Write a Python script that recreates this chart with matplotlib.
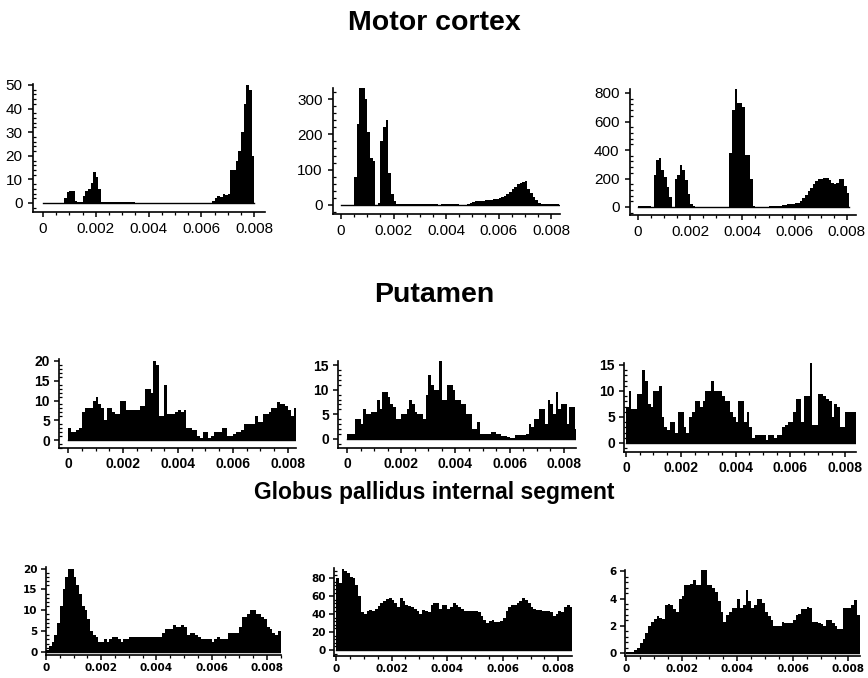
import matplotlib
matplotlib.use("Agg")
import matplotlib.pyplot as plt
import numpy as np
from matplotlib.ticker import AutoMinorLocator, MultipleLocator

W, H = 868, 678
plt.rcParams.update({"font.family": ["Liberation Sans", "DejaVu Sans"]})

BIN_WIDTH = 0.0001  # s, inter-spike interval bins
XTICKS = [0, 0.002, 0.004, 0.006, 0.008]
XTICK_LABELS = ["0", "0.002", "0.004", "0.006", "0.008"]

# ---------------------------------------------------------------------------
# Motor cortex (counts per 0.1 ms bin)
# ---------------------------------------------------------------------------
mc1 = [0, 0, 0, 0, 0, 0, 0, 0, 2, 4.5,
       5, 5, 1, 0.3, 0.3, 3, 5, 6, 8.5, 13,
       11, 6, 0.3, 0.3, 0.3, 0.3, 0.3, 0.3, 0.3, 0.3,
       0.3, 0.3, 0.3, 0.3, 0.3, 0, 0, 0, 0, 0,
       0, 0, 0, 0, 0, 0, 0, 0, 0, 0,
       0, 0, 0, 0, 0, 0, 0, 0, 0, 0,
       0, 0, 0, 0, 1, 2, 3, 2.5, 4, 3.5,
       4, 14, 14, 18, 22, 30, 42, 50, 48, 20]
mc2 = [0, 0, 0, 0, 0, 80, 230, 330, 340, 300,
       208, 132, 125, 0, 5, 180, 222, 241, 90, 30,
       10, 2, 2, 2, 2, 2, 2, 2, 2, 2,
       2, 2, 2, 2, 2, 2, 2, 1, 1.5, 1.5,
       1.5, 1.5, 1.5, 1.5, 1.5, 0, 0, 0, 3, 6,
       9, 11, 11, 12, 12, 13, 14, 15, 16, 18,
       19, 22, 26, 32, 38, 44, 52, 60, 62, 66,
       68, 45, 33, 22, 14, 6, 2, 2, 2, 2,
       2, 2, 2]
mc3 = [8, 8, 8, 8, 5, 2, 224, 330, 346, 260,
       212, 141, 70, 0, 193, 224, 294, 260, 188, 94,
       24, 10, 3, 3, 3, 3, 3, 3, 3, 3,
       3, 3, 3, 3, 3, 380, 680, 830, 730, 730,
       700, 365, 365, 200, 5, 0, 0, 0, 0, 0,
       5, 10, 10, 10, 10, 12, 15, 18, 20, 22,
       25, 28, 40, 60, 85, 110, 135, 160, 180, 195,
       195, 205, 205, 190, 170, 160, 165, 200, 200, 150,
       100]

# ---------------------------------------------------------------------------
# Putamen
# ---------------------------------------------------------------------------
pu1 = [3, 2, 2, 2.5, 3, 7, 8, 8, 8, 10,
       11, 9, 8, 5, 8, 8, 7, 6.5, 6.5, 10,
       10, 7.5, 7.5, 7.5, 7.5, 7.5, 8.5, 8.5, 13, 13,
       12, 20, 19, 6, 6, 14, 6.5, 6.5, 6.5, 7,
       7.5, 7, 7.5, 3, 3, 2.5, 2.5, 1, 0.5, 2,
       2, 0.5, 1, 2, 2, 2, 3, 3, 1, 1,
       1.5, 2, 2, 2.5, 4, 4, 4, 4, 6, 4.5,
       4.5, 6.5, 6.5, 7, 8, 8, 9.5, 9, 9, 8.5,
       7.5, 6, 8]
pu2 = [1, 1, 1, 4, 4, 3, 6, 5, 5, 5.5,
       5.5, 8, 6, 9.5, 9.5, 8.5, 7, 6.5, 4, 4,
       5, 5, 6, 8, 7, 5.5, 5, 5, 4, 9,
       13, 11, 10, 10, 16, 8, 8, 11, 11, 10,
       8, 8, 7, 7, 5, 5, 2, 2, 3.5, 1,
       1, 1, 1, 1.5, 1.5, 1, 1, 0.7, 0.7, 0.5,
       0.3, 0.3, 0.8, 0.8, 0.8, 0.8, 1, 3, 2.5, 4,
       4, 6, 6, 3, 8, 7, 5, 9.5, 6, 7,
       7, 3, 6.5, 6.5, 2]
pu3 = [7, 10, 6.5, 6.5, 9.5, 9.5, 14, 12, 7.5, 7,
       10, 10, 11, 5, 3, 2.5, 4, 4, 2, 6,
       6, 3, 2, 5, 6, 8, 8, 7, 8, 10,
       10, 12, 10, 10, 10, 9, 8, 8, 6, 5,
       4, 8, 8, 4, 6, 3, 1, 1.5, 1.5, 1.5,
       1.5, 0.5, 1.5, 1.5, 1, 1.5, 1.5, 3, 3.5, 4,
       4, 6, 8.5, 8.5, 4, 9, 9, 16, 3.5, 3.5,
       9.5, 9.5, 9, 8.5, 8, 5, 7.5, 7, 3, 3,
       6, 6, 6, 6, 6]

# ---------------------------------------------------------------------------
# Globus pallidus internal segment
# ---------------------------------------------------------------------------
gp1 = [0.5, 1.5, 2.5, 4, 7, 11, 15, 18, 20, 20,
       18, 16, 14, 11, 10, 8, 5, 4, 3.5, 2.5,
       2.5, 3, 2.5, 3, 3.5, 3.5, 3, 2.5, 3, 3,
       3.5, 3.5, 3.5, 3.5, 3.5, 3.5, 3.5, 3.5, 3.5, 3.5,
       3.5, 3.5, 4.5, 5.5, 5.5, 5.5, 6.5, 6, 6, 6.5,
       6, 4, 4.5, 4.5, 4, 3.5, 3, 3, 3, 3,
       2.5, 3, 3.5, 3, 3, 3, 4.5, 4.5, 4.5, 4.5,
       6, 8.5, 8.5, 9, 10, 10, 9, 9, 8.5, 8,
       6, 5.5, 4.5, 4, 5]
gp2 = [80, 75, 90, 88, 86, 82, 80, 72, 60, 42,
       40, 44, 45, 44, 46, 49, 52, 55, 57, 58,
       56, 52, 48, 58, 55, 50, 49, 48, 46, 44,
       40, 45, 44, 42, 50, 53, 53, 46, 50, 50,
       46, 48, 52, 50, 48, 46, 44, 44, 44, 44,
       44, 42, 38, 34, 30, 32, 33, 31, 31, 32,
       36, 44, 48, 50, 50, 52, 55, 58, 56, 52,
       48, 46, 45, 45, 44, 44, 43, 42, 38, 40,
       44, 42, 48, 50, 48]
gp3 = [0.1, 0.1, 0.1, 0.2, 0.4, 0.7, 1, 1.5, 2, 2.3,
       2.5, 2.7, 2.6, 2.5, 3.5, 3.6, 3.5, 3.2, 3, 4,
       4.2, 5, 5, 5.1, 5.4, 5, 5, 6.2, 6.2, 5,
       5, 4.8, 4.5, 3.8, 3, 2.3, 2.8, 3, 3.3, 3.3,
       4, 3.3, 3.5, 4.6, 3.8, 3.3, 3.5, 4, 4, 3.7,
       3, 2.7, 2.4, 2, 2, 2, 2.3, 2.2, 2.2, 2.2,
       2.4, 2.8, 2.9, 3.2, 3.2, 3.4, 3.3, 2.3, 2.3, 2.2,
       2.1, 2, 2.4, 2.4, 2.2, 2, 1.8, 1.8, 3.3, 3.3,
       3.3, 3.5, 3.9, 2.8]

mc_yticks = [[0, 10, 20, 30, 40, 50], [0, 100, 200, 300], [0, 200, 400, 600, 800]]
pu_yticks = [[0, 5, 10, 15, 20], [0, 5, 10, 15], [0, 5, 10, 15]]
gp_yticks = [[0, 5, 10, 15, 20], [0, 20, 40, 60, 80], [0, 2, 4, 6]]

# pixel layout of each panel:
# (y-spine x, x-spine y, x px of t=0, px per ms, y px of count 0, px per count, right end px, top px)
LAYOUT = [
    [(33, 212, 43, 26.4, 203, 2.36, 265, 84),
     (333, 214, 341, 26.25, 205, 0.3533, 560, 88),
     (630, 215, 638, 26.1, 207, 0.1425, 856, 89)],
    [(59, 448, 68, 27.5, 440, 3.95, 296, 359),
     (338, 448, 347, 27.1, 439, 4.93, 576, 361),
     (624, 452, 626, 27.4, 443, 5.2, 856, 363)],
    [(46, 655, 46, 27.6, 652, 4.17, 281, 567),
     (334, 656, 336, 27.8, 650, 0.896, 572, 568),
     (625, 656, 626, 27.8, 653, 13.6, 860, 570)],
]

rows = [
    ("Motor cortex", [mc1, mc2, mc3], mc_yticks, 20.5, 30,
     dict(size=11, weight="normal", family=["Liberation Sans"], pad=4)),
    ("Putamen", [pu1, pu2, pu3], pu_yticks, 20.5, 302,
     dict(size=10, weight="bold", family=["Liberation Sans"], pad=3)),
    ("Globus pallidus internal segment", [gp1, gp2, gp3], gp_yticks, 16.5, 499,
     dict(size=7.5, weight="bold", family=["DejaVu Sans"], pad=2.5)),
]

fig = plt.figure(figsize=(W / 100, H / 100), dpi=100)
fig.patch.set_facecolor("white")

for r, (title, series, yticks_list, tsize, tbase, tickfont) in enumerate(rows):
    fig.text(434 / W, 1 - tbase / H, title, ha="center", va="baseline",
             fontsize=tsize, fontweight="bold", color="black")
    for c, counts in enumerate(series):
        ysx, xsy, x0, pms, y0, pcu, xend, ytop = LAYOUT[r][c]
        ax = fig.add_axes([ysx / W, 1 - xsy / H, (xend - ysx) / W, (xsy - ytop) / H])
        edges = np.arange(len(counts) + 1) * BIN_WIDTH
        ax.stairs(counts, edges, fill=True, color="black", baseline=0)
        ax.plot([0, edges[-1]], [0, 0], color="black", lw=1.0)
        ax.set_xlim((ysx - x0) / pms * 0.001, (xend - x0) / pms * 0.001)
        ax.set_ylim(-(xsy - y0) / pcu, (y0 - ytop) / pcu)
        for s in ["top", "right"]:
            ax.spines[s].set_visible(False)
        for s in ["left", "bottom"]:
            ax.spines[s].set_linewidth(1.2)
        ax.set_xticks(XTICKS)
        ax.set_xticklabels(XTICK_LABELS)
        ax.set_yticks(yticks_list[c])
        ax.xaxis.set_minor_locator(MultipleLocator(0.0005))
        ax.yaxis.set_minor_locator(AutoMinorLocator(5))
        ax.tick_params(which="major", direction="out", length=3.5, width=1.1,
                       pad=tickfont["pad"], labelsize=tickfont["size"])
        ax.tick_params(axis="y", which="minor", direction="in", length=2, width=0.9)
        ax.tick_params(axis="x", which="minor", direction="out", length=2, width=0.9)
        for lab in ax.get_xticklabels() + ax.get_yticklabels():
            lab.set_fontweight(tickfont["weight"])
            lab.set_family(tickfont["family"])
        ax.patch.set_alpha(0)

fig.savefig("out.png", dpi=100)
